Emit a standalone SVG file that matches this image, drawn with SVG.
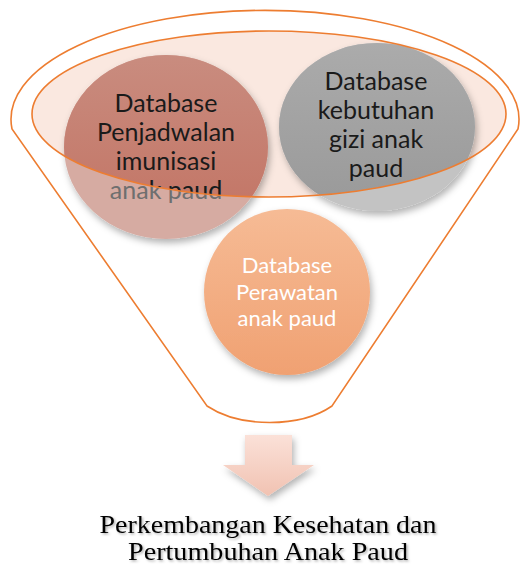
<svg xmlns="http://www.w3.org/2000/svg" width="520" height="565" viewBox="0 0 520 565">
  <style>
    .rim { fill: none; stroke: #ed7d31; stroke-width: 1.6; }
    .lbl { font-family: Lato, "Open Sans", "Liberation Sans", sans-serif; font-size: 25px; text-anchor: middle; fill: #1a1a1a; }
    .lbl-out { fill: #6f6f6f; }
    .lbl-sm { font-size: 22px; fill: #ffffff; }
    .res { font-family: "Liberation Serif", "Times New Roman", serif; font-size: 24.5px; text-anchor: middle; fill: #000; }
  </style>
  <defs>
    <clipPath id="inEl">
      <ellipse cx="269" cy="114" rx="237" ry="83"/>
    </clipPath>
    <filter id="sh" x="-20%" y="-20%" width="150%" height="150%">
      <feDropShadow dx="2" dy="4" stdDeviation="3.5" flood-color="#000" flood-opacity="0.3"/>
    </filter>
    <filter id="tsh" x="-10%" y="-30%" width="120%" height="160%">
      <feDropShadow dx="1.5" dy="1.5" stdDeviation="1" flood-color="#000" flood-opacity="0.3"/>
    </filter>
    <linearGradient id="gOr" x1="0" y1="0" x2="0" y2="1">
      <stop offset="0" stop-color="#f6bb95"/>
      <stop offset="1" stop-color="#f0a172"/>
    </linearGradient>
    <linearGradient id="gRed" x1="0" y1="0" x2="0" y2="1">
      <stop offset="0" stop-color="#c98c7f"/>
      <stop offset="1" stop-color="#c27262"/>
    </linearGradient>
    <linearGradient id="gGr" x1="0" y1="0" x2="0" y2="1">
      <stop offset="0" stop-color="#ababab"/>
      <stop offset="1" stop-color="#999999"/>
    </linearGradient>
    <linearGradient id="gAr" x1="0" y1="0" x2="0" y2="1">
      <stop offset="0" stop-color="#fbe1d8"/>
      <stop offset="1" stop-color="#f1c2b2"/>
    </linearGradient>
  </defs>

  <g id="funnel">
    <path class="rim" d="M 12,129 A 254,109 0 1 1 518,129 L 332,406 C 300,428 240,428 207,406 Z"/>
    <ellipse cx="269" cy="114" rx="237" ry="83" fill="#fae8e0"/>
  </g>

  <g id="node-imunisasi">
    <ellipse cx="166" cy="147" rx="102" ry="92" fill="#d6aba2" filter="url(#sh)"/>
    <ellipse cx="166" cy="147" rx="102" ry="92" fill="url(#gRed)" clip-path="url(#inEl)"/>
    <text class="lbl" x="166" y="112">Database</text>
    <text class="lbl" x="166" y="141">Penjadwalan</text>
    <text class="lbl" x="166" y="170">imunisasi</text>
    <text class="lbl lbl-out" x="166" y="199">anak paud</text>
    <text class="lbl" x="166" y="199" clip-path="url(#inEl)">anak paud</text>
  </g>

  <g id="node-gizi">
    <ellipse cx="377" cy="127" rx="98" ry="84" fill="#c3c3c3" filter="url(#sh)"/>
    <ellipse cx="377" cy="127" rx="98" ry="84" fill="url(#gGr)" clip-path="url(#inEl)"/>
    <text class="lbl" x="376" y="90">Database</text>
    <text class="lbl" x="376" y="119">kebutuhan</text>
    <text class="lbl" x="376" y="148">gizi anak</text>
    <text class="lbl" x="376" y="177">paud</text>
  </g>

  <g id="node-perawatan">
    <circle cx="287" cy="292" r="83" fill="url(#gOr)" filter="url(#sh)"/>
    <text class="lbl lbl-sm" x="287" y="273">Database</text>
    <text class="lbl lbl-sm" x="287" y="299.5">Perawatan</text>
    <text class="lbl lbl-sm" x="287" y="326">anak paud</text>
  </g>

  <g id="funnel-rim">
    <ellipse class="rim" cx="269" cy="114" rx="237" ry="83"/>
  </g>

  <g id="connectors">
    <polygon points="245,435 292,435 292,465 314,465 268,496 223,465 245,465" fill="url(#gAr)" filter="url(#sh)"/>
  </g>

  <g id="node-result" filter="url(#tsh)">
    <text class="res" x="268" y="533" textLength="337" lengthAdjust="spacingAndGlyphs">Perkembangan Kesehatan dan</text>
    <text class="res" x="268" y="560" textLength="280" lengthAdjust="spacingAndGlyphs">Pertumbuhan Anak Paud</text>
  </g>
</svg>
